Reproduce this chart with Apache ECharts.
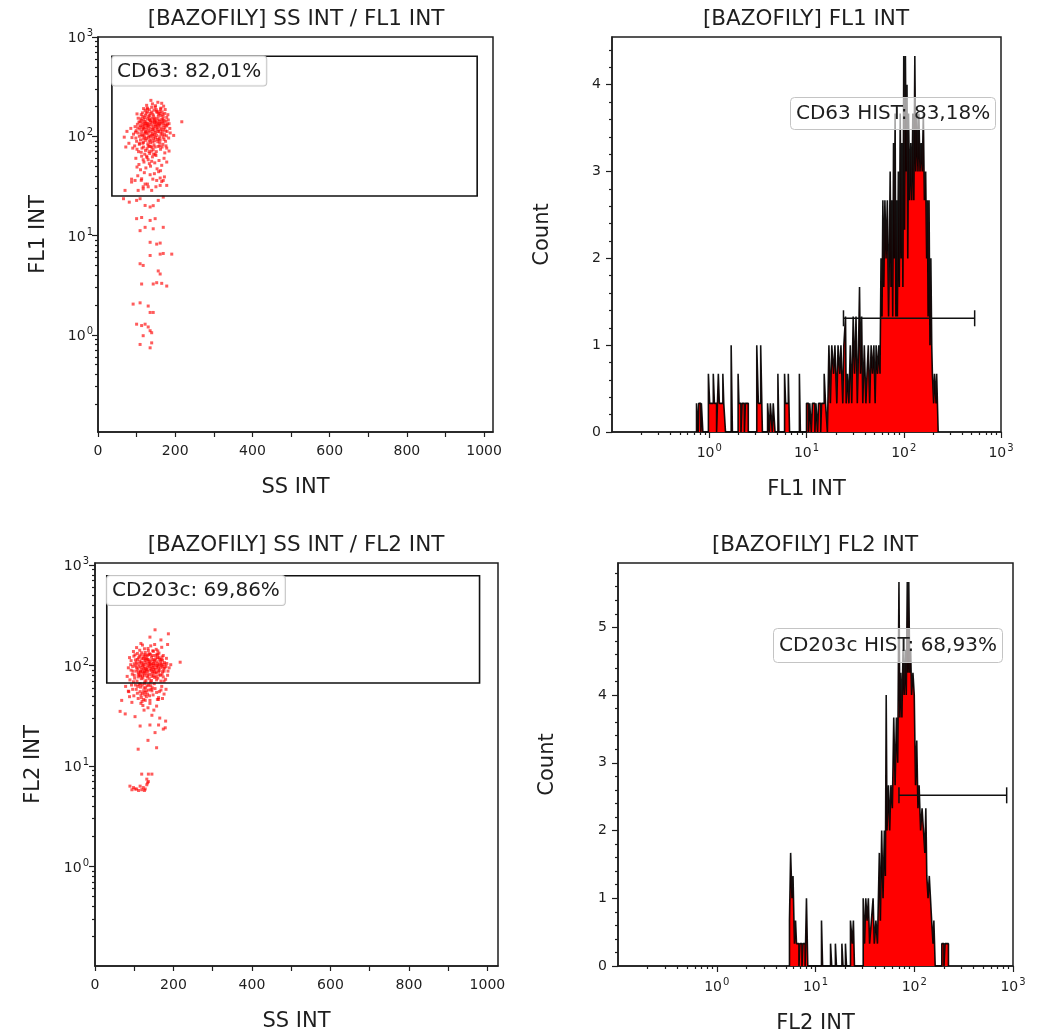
<!DOCTYPE html>
<html><head><meta charset="utf-8">
<script src="https://cdn.jsdelivr.net/npm/echarts@6/dist/echarts.min.js"></script>
<style>html,body{margin:0;padding:0;background:#fff}#c{width:1053px;height:1035px}</style>
</head><body><div id="c"></div>
<script>
// ---------- DATA ----------
const panelTitles = ['[BAZOFILY] SS INT / FL1 INT', '[BAZOFILY] FL1 INT', '[BAZOFILY] SS INT / FL2 INT', '[BAZOFILY] FL2 INT'];
const axisNames = { ss: 'SS INT', fl1: 'FL1 INT', fl2: 'FL2 INT', count: 'Count' };
const gateLabels = ['CD63: 82,01%', 'CD203c: 69,86%'];
const histLabels = ['CD63 HIST: 83,18%', 'CD203c HIST: 68,93%'];

const ssTickValues = [0,100,200,300,400,500,600,700,800,900,1000];
const ssLabelValues = [0,200,400,600,800,1000];
const logLabelValues = [1,10,100,1000];
const logLabelExps = {0:'0', 1:'1', 2:'2', 3:'3'};
const logMinorValues = [0.2,0.3,0.4,0.5,0.6,0.7,0.8,0.9,2,3,4,5,6,7,8,9,20,30,40,50,60,70,80,90,200,300,400,500,600,700,800,900];
const count1Labels = [0,1,2,3,4];
const count1Minor = [0.2,0.4,0.6,0.8,1.2,1.4,1.6,1.8,2.2,2.4,2.6,2.8,3.2,3.4,3.6,3.8,4.2,4.4];
const count2Labels = [0,1,2,3,4,5];
const count2Minor = [0.2,0.4,0.6,0.8,1.2,1.4,1.6,1.8,2.2,2.4,2.6,2.8,3.2,3.4,3.6,3.8,4.2,4.4,4.6,4.8,5.2,5.4,5.6,5.8];

// gates: [ssMin, ssMax, flMin, flMax]
const scatterGate1 = [36, 982, 25, 640];
const scatterGate2 = [30, 980, 67, 783];
// histogram gates: [from, to, level]
const histGate1 = [24, 536, 1.31];
const histGate2 = [70, 863, 2.52];

// SS INT / FL1 INT events
const fl1Scatter = [
[118,190],[126,205],[133,185],[141,212],[148,196],[155,220],[162,188],[170,201],[137,230],[152,178],[165,215],[128,176],[145,183],[174,186],[122,181],
[104,152],[112,165],[119,148],[125,171],[131,158],[136,143],[142,167],[147,152],[153,174],[158,146],[163,161],[168,149],[173,170],[178,155],[109,140],[116,158],[123,163],[139,175],[150,141],[160,169],[171,144],[128,150],[134,162],[145,148],[156,159],[166,176],[176,142],[181,165],[101,168],[113,145],
[96,125],[102,132],[108,118],[114,136],[120,122],[126,129],[132,115],[137,138],[143,124],[148,131],[154,117],[159,134],[164,121],[170,128],[175,113],[180,133],[186,120],[99,114],[106,139],[117,127],[123,112],[129,135],[135,121],[140,130],[146,113],[152,137],[157,125],[162,116],[167,139],[173,122],[178,127],[111,124],[131,127],[144,119],[119,131],[161,130],[138,112],[149,126],[126,118],[184,134],
[92,105],[98,96],[104,108],[110,92],[115,101],[121,98],[127,106],[133,90],[138,103],[144,95],[149,109],[155,88],[160,99],[166,104],[171,93],[177,101],[183,96],[107,100],[118,94],[124,110],[130,97],[141,106],[147,90],[152,102],[158,94],[163,107],[169,98],[175,89],[112,104],[136,99],[100,89],[88,97],[196,102],
[95,80],[101,74],[107,83],[112,69],[118,78],[123,72],[129,84],[134,67],[140,77],[145,82],[151,70],[156,79],[162,74],[168,83],[173,68],[178,76],[184,71],[116,85],[127,75],[138,71],[148,66],[160,80],[121,66],[133,79],[105,70],[90,76],[176,80],[143,73],
[98,60],[106,52],[113,63],[119,55],[124,48],[130,58],[136,50],[141,62],[147,54],[153,47],[158,57],[165,51],[171,60],[110,46],[127,61],[139,56],[150,64],[162,45],[117,58],[133,53],[178,55],[101,49],
[103,40],[112,36],[120,43],[128,33],[135,41],[142,37],[150,31],[157,44],[165,35],[172,39],[117,31],[146,42],[161,38],
[217,140],[68,98],[75,112],[80,85],[72,78],[85,120],
[115,172],[121,155],[127,188],[134,149],[139,196],[144,160],[151,185],[157,168],[163,192],[169,157],[120,140],[127,133],[133,146],[140,152],[146,137],[153,150],[159,141],[165,147],[171,135],[110,128],[116,117],[122,134],[128,124],[134,131],[141,117],[147,143],[153,129],[158,112],[164,136],[170,118],[176,130],[113,111],[119,103],[125,95],[131,110],[137,92],[143,101],[149,97],[155,111],[161,92],[167,112],[172,104],[118,87],[124,91],[130,80],[136,86],[142,88],[148,78],[154,93],[160,86],[166,78],[108,85],[114,76],[126,63],[132,70],[144,66],[137,79],[146,104],[152,121],[132,101],[124,140],[118,120],[142,140],[156,133],[128,192],[149,203],[160,178],[168,166],[111,150],[135,170],[121,108],[103,122],[97,110],[182,146],[179,112],[187,108],
[66,23.5],[81,21.7],[100,22.6],[109,23.5],[122,20.1],[135,19.4],[143,20],[156,22.6],[169,24.4],
[100,14.8],[113,15.2],[122,12.1],[135,14.2],[148,14.8],[169,12.1],[109,11.2],[143,11.7],
[135,8.55],[152,8.2],[161,8.4],[135,6.3],[161,6.5],[169,6.6],[191,6.5],[109,5.2],[117,5.0],[156,4.4],[161,4.1],
[113,3.25],[143,3.25],[152,3.35],[165,3.3],[178,3.1],[91,2.04],[109,2.1],[130,1.95],[135,1.68],[143,1.68],
[100,1.28],[113,1.24],[122,1.28],[135,1.1],[130,1.2],[117,0.98],[139,1.05],[109,0.8],[135,0.74],[139,0.83],
[87,34.6],[96,35.9],[113,37.3],[122,33],[130,31],[152,35.9],[161,32],[169,35.9],[178,32],[70,28.5],[104,28.5],[117,29.5],[139,28.5],[87,37]
];

// SS INT / FL2 INT events
const fl2Scatter = [
[98,138],[106,151],[114,142],[121,160],[128,135],[135,148],[142,157],[149,139],[156,145],[163,133],[170,152],[117,166],[139,131],[152,162],[126,147],[108,132],[160,140],
[153,227],[187,207],[140,192],[185,162],[217,108],[168,180],
[92,112],[99,124],[105,108],[111,119],[117,127],[122,106],[128,116],[133,125],[138,110],[144,121],[149,105],[155,117],[160,128],[166,111],[171,122],[177,107],[182,118],[102,128],[114,110],[125,122],[136,114],[147,126],[158,109],[169,115],[119,117],[130,108],[141,129],[152,113],[163,120],[174,126],[88,120],[108,115],
[85,95],[91,102],[97,88],[103,99],[109,92],[114,104],[120,86],[125,97],[131,90],[136,101],[142,94],[147,87],[153,103],[158,96],[164,89],[169,100],[175,93],[181,98],[186,88],[100,104],[111,86],[117,96],[123,102],[128,93],[134,88],[139,98],[145,104],[150,91],[156,86],[161,99],[167,95],[172,87],[178,103],[106,95],[133,96],[144,90],[119,91],[126,88],[189,95],[193,102],
[82,78],[89,72],[95,82],[101,75],[107,70],[113,80],[118,74],[124,84],[130,71],[135,79],[141,69],[146,83],[152,76],[157,72],[163,81],[168,70],[174,77],[180,73],[185,80],[98,69],[110,77],[121,79],[127,69],[138,74],[149,79],[160,75],[171,82],[115,85],[132,83],[144,71],[155,84],[176,70],
[112,98],[118,108],[124,93],[129,103],[134,115],[140,105],[146,96],[151,110],[157,100],[162,93],[168,106],[173,98],[116,88],[121,100],[127,112],[132,92],[137,106],[143,112],[149,100],[154,92],[160,104],[165,116],[171,103],[113,124],[119,134],[125,128],[131,118],[136,128],[142,102],[148,115],[154,126],[159,120],[164,102],[110,82],[116,79],[122,75],[127,86],[133,77],[139,82],[145,78],[151,86],[156,78],[162,87],[167,80],[105,88],[126,80],[140,90],[150,95],[158,130],[147,140],[136,140],[129,127],[123,118],[107,104],[103,114],[172,113],[178,95],[183,105],[96,98],[92,90],[100,80],[176,88],
[78,62],[86,55],[93,64],[99,50],[105,58],[110,47],[116,61],[121,53],[126,66],[131,49],[137,57],[142,63],[148,51],[153,59],[159,46],[164,55],[170,62],[176,52],[181,58],[96,58],[112,65],[118,48],[124,56],[129,60],[134,52],[140,45],[146,60],[151,66],[157,54],[162,48],[168,57],[103,64],[88,49],[115,55],[127,51],[133,63],[145,56],[172,47],[108,53],[120,44],[128,45],[122,40],[117,42],[135,38],
[125,60],[131,56],[120,64],[115,66],[137,64],[143,58],[109,62],[117,51],[124,46],[128,54],[139,50],
[64,35],[77,33],[115,25],[140,25.6],[162,25.6],[179,24],[153,21.5],[174,23.3],[102,31],[145,32],[68,45],[94,43],[140,42],[157,39.5],[85,55.6],[162,46],[110,14.7],[157,15.2],[136,8.3],[145,8.3],[119,8.3],[135,18],[165,30],[125,36],[150,36],[180,28],
[89,6.3],[98,6.1],[106,5.9],[115,6.3],[119,5.8],[128,5.9],[132,6.5],[136,7.0],[132,7.4],[94,5.8],[111,5.7],[123,6.1],[102,5.9],[134,6.8],[126,5.7]
];

// FL1 INT histogram: [channel value where level starts, count]
const fl1Hist = [
[0.74,0.33],[0.77,0],[0.78,0.33],[0.82,0],[0.83,0.33],[0.86,0],
[0.98,0.67],[1.01,0.33],[1.1,0.67],[1.13,0.33],[1.19,0],
[1.24,0.67],[1.27,0.33],[1.38,0.67],[1.41,0.33],[1.47,0],
[1.68,1],[1.73,0],
[1.98,0.67],[2.02,0.33],[2.12,0],[2.17,0.33],[2.3,0],[2.35,0.33],[2.52,0],
[3.08,1],[3.2,0.33],[3.38,1],[3.52,0],
[3.98,0.33],[4.15,0],[4.25,0.33],[4.45,0],[4.55,0.33],[4.75,0],
[5.08,0.67],[5.2,0],
[5.95,0.67],[6.1,0.33],[6.5,0.67],[6.7,0],
[8.45,0.67],[8.65,0],
[10,0.33],[10.5,0],[10.8,0.33],[11.2,0],[11.5,0.33],[12.2,0],[12.5,0.33],[13,0],[13.3,0.33],[14,0],[14.3,0.33],[15.2,0.67],[15.7,0.33],[16.4,0],
[17,1],[17.6,0.33],[18.2,1],[19,0.67],[19.6,1],[20.5,0.33],[21.1,1],[22,0.67],[22.6,1],[23.6,0.33],[24.2,1],[25.2,1.33],[25.6,0.33],[26.4,0.67],[27.3,0.33],[28.2,1],[29.2,0.33],[30.2,1.33],[31.2,0.67],[32.3,1.33],[33.3,0.33],[34.3,1],[35.1,1.67],[35.9,0.67],[36.9,1.33],[37.9,0.33],[39.3,1],[40.8,0.33],[41.9,0.67],[43.2,1],[44.6,0.33],[46.2,1],[47.7,0.67],[49.3,1],[50.8,0.33],[52,1],[53.8,0.67],[55.4,1],[57,0.67],[58.4,2],[59.8,1.33],[61,2.67],[62.4,1.67],[64,2.67],[65.8,2],[67.8,2.67],[69.8,1.33],
[71,2],[72.5,3],[74,1.67],[75.5,2.67],[77,1.33],[78.5,3.33],[80,2],[81.5,3.67],[83,1.33],[84.5,2.67],[86,1.33],[88,3],[90,1.67],[92,3.67],[94,2],[96,3.33],[98,1.67],[100,4.33],[102,2.33],[104,4.33],[106,3],[108,4],[110,2],[112,3.67],[115,2.67],[118,3.33],[121,2.67],[124,3.67],[127,2.67],[130,4.33],[133,3],[136,3.67],[140,3],[143,3.67],[147,3],[151,3.33],[155,3],[159,3.67],[163,2.67],[168,3],[172,2],[175,2.67],[178,1.33],[182,2.67],[186,1],[190,2],[194,1],[197,0.67],[203,0.33],[207,0.67],[215,0.33],[218,0.67],[226,0]
];

// FL2 INT histogram
const fl2Hist = [
[5.45,0.67],[5.6,1.67],[5.78,1],[5.92,1.33],[6.12,0.33],[6.28,0.67],[6.42,0.33],[6.8,0],[6.95,0.33],[7.3,0],[7.45,0.33],[7.85,0],
[8.1,1],[8.35,0],
[11.5,0.67],[11.8,0],
[14.2,0.33],[14.6,0],[15.9,0.33],[16.3,0],[18.5,0.33],[19,0],[20.1,0.33],[20.6,0],[22.6,0.67],[23.6,0.33],[24.2,0.67],[24.8,0],
[30.4,1],[31.4,0.33],[32.3,1],[33.3,0.67],[34.3,1],[35.3,0.33],[36.8,0.67],[38.3,1],[39.4,0.33],[40.9,0.67],[42.4,0.33],[44.3,1.67],[45.4,0.67],[46.8,2],[48.3,1],[49.8,2],[51,1.33],[52,4],[53,2],[54.8,2.67],[56.4,2],[58,2.67],[60,2.33],[62,3.67],[64,2.67],[66,3.67],[68,3],[70,5.67],[71.5,3.67],[73,4.33],[75,3.67],[77,4.67],[79,4],[81,4.67],[83,4],[85,5.67],[86.5,4.33],[88,5.67],[90,4.33],[92,4.67],[94,4],[97,4.33],[100,4],[103,2.67],[106,3.33],[109,2.33],[112,2.67],[116,2],[120,2.33],[124,2],[128,1.67],[131,2.33],[134,1.33],[138,1],[142,1.33],[146,1],[150,0.67],[155,0.33],[158,0.67],[163,0],
[190,0.33],[200,0],[205,0.33],[222,0]
];

// ---------- CHART ----------
const FONT = 'DejaVu Sans';
const TXT = '#1e1e1e';
const chart = echarts.init(document.getElementById('c'), null, {renderer: 'canvas'});

const lineSt = {show: true, lineStyle: {color: TXT, width: 1.5}};
const tickSt = {color: TXT, width: 1.2};
const nameSt = {fontSize: 21, color: TXT, fontFamily: FONT};
const lblSt = {fontSize: 14, color: TXT, fontFamily: FONT};
const logFmt = v => '{b|10}{s|' + logLabelExps[Math.round(Math.log10(v))] + '}';
const logRich = {b: {fontSize: 14, color: TXT, fontFamily: FONT, lineHeight: 17, verticalAlign: 'bottom'},
                 s: {fontSize: 10, color: TXT, fontFamily: FONT, lineHeight: 17, verticalAlign: 'top', padding: [0, 0, 0, 1]}};
const plainFmt = v => String(v);

function ssAxis(grid, max, name, gap) {
  return {gridIndex: grid, type: 'value', position: 'bottom', min: 0, max: max, axisLine: lineSt, splitLine: {show: false},
    axisTick: {show: true, length: 5, customValues: ssTickValues, lineStyle: tickSt},
    axisLabel: Object.assign({customValues: ssLabelValues, margin: 12, formatter: plainFmt}, lblSt),
    name: name, nameLocation: 'middle', nameGap: gap, nameTextStyle: nameSt};
}
function logAxis(grid, pos, min, max, name, gap, margin) {
  return {gridIndex: grid, position: pos, type: 'log', logBase: 10, min: min, max: max, axisLine: lineSt, splitLine: {show: false},
    axisTick: {show: true, length: 6, customValues: logLabelValues, lineStyle: tickSt},
    axisLabel: {customValues: logLabelValues, margin: margin, formatter: logFmt, rich: logRich},
    name: name, nameLocation: 'middle', nameGap: gap, nameTextStyle: nameSt};
}
function logMinor(grid, pos, min, max) {
  return {gridIndex: grid, position: pos, type: 'log', logBase: 10, min: min, max: max, axisLine: {show: false}, splitLine: {show: false},
    axisLabel: {show: false}, axisTick: {show: true, length: 3, customValues: logMinorValues, lineStyle: tickSt}};
}
function countAxis(grid, max, labels, name, gap) {
  return {gridIndex: grid, position: 'left', type: 'value', min: 0, max: max, axisLine: lineSt, splitLine: {show: false},
    axisTick: {show: true, length: 6, customValues: labels, lineStyle: tickSt},
    axisLabel: Object.assign({customValues: labels, margin: 11, formatter: plainFmt}, lblSt),
    name: name, nameLocation: 'middle', nameGap: gap, nameTextStyle: nameSt};
}
function countMinor(grid, max, minor) {
  return {gridIndex: grid, position: 'left', type: 'value', min: 0, max: max, axisLine: {show: false}, splitLine: {show: false},
    axisLabel: {show: false}, axisTick: {show: true, length: 3, customValues: minor, lineStyle: tickSt}};
}

function scatterSeries(xi, yi, data, gate, label) {
  return {type: 'scatter', xAxisIndex: xi, yAxisIndex: yi, data: data, symbol: 'rect', symbolSize: 3,
    itemStyle: {color: 'rgba(255,0,0,0.8)'}, silent: true, z: 2,
    markArea: {silent: true, z: 3,
      itemStyle: {color: 'rgba(0,0,0,0)', borderColor: '#111', borderWidth: 1.6},
      label: {show: true, position: 'insideTopLeft', distance: 1, formatter: label,
        fontSize: 20, color: TXT, fontFamily: FONT, backgroundColor: 'rgba(255,255,255,0.85)',
        borderColor: '#c4c4c4', borderWidth: 1, borderRadius: 3, padding: [5, 5, 4, 5]},
      data: [[{xAxis: gate[0], yAxis: gate[3]}, {xAxis: gate[1], yAxis: gate[2]}]]}};
}
function histSeries(xi, yi, levels) {
  const pts = [[levels[0][0], 0]].concat(levels);
  return {type: 'line', xAxisIndex: xi, yAxisIndex: yi, data: pts, step: 'end', symbol: 'none', showSymbol: false,
    lineStyle: {color: 'rgba(0,0,0,0.92)', width: 1.6}, areaStyle: {color: '#ff0000', opacity: 1}, z: 2, silent: true};
}
function gateSeries(xi, yi, g) {
  return {type: 'custom', xAxisIndex: xi, yAxisIndex: yi, data: [g], encode: {x: [0, 1], y: 2}, z: 5, silent: true,
    renderItem: (params, api) => {
      const a = api.coord([api.value(0), api.value(2)]);
      const b = api.coord([api.value(1), api.value(2)]);
      const cap = 8, st = {stroke: '#111', lineWidth: 1.5};
      return {type: 'group', children: [
        {type: 'line', shape: {x1: a[0], y1: a[1], x2: b[0], y2: b[1]}, style: st},
        {type: 'line', shape: {x1: a[0], y1: a[1] - cap, x2: a[0], y2: a[1] + cap}, style: st},
        {type: 'line', shape: {x1: b[0], y1: b[1] - cap, x2: b[0], y2: b[1] + cap}, style: st}]};
    }};
}
const titleSt = {fontSize: 21.5, fontWeight: 'normal', color: TXT, fontFamily: FONT};
const histLblSt = {fontSize: 20, fontWeight: 'normal', color: TXT, fontFamily: FONT, lineHeight: 25};
const gridBase = {show: true, borderColor: TXT, borderWidth: 1.5, backgroundColor: 'transparent', containLabel: false, outerBoundsMode: 'none'};

chart.setOption({
  animation: false,
  backgroundColor: '#fff',
  title: [
    {text: panelTitles[0], left: 296, top: 8, textAlign: 'center', padding: 0, textStyle: titleSt},
    {text: panelTitles[1], left: 806, top: 8, textAlign: 'center', padding: 0, textStyle: titleSt},
    {text: panelTitles[2], left: 296, top: 534, textAlign: 'center', padding: 0, textStyle: titleSt},
    {text: panelTitles[3], left: 815, top: 534, textAlign: 'center', padding: 0, textStyle: titleSt},
    {text: histLabels[0], left: 790, top: 97, padding: [4, 6, 4, 6], backgroundColor: 'rgba(255,255,255,0.62)',
      borderColor: '#c4c4c4', borderWidth: 1, borderRadius: 4, textStyle: histLblSt},
    {text: histLabels[1], left: 773, top: 628, padding: [5, 6, 5, 6], backgroundColor: 'rgba(255,255,255,0.62)',
      borderColor: '#c4c4c4', borderWidth: 1, borderRadius: 4, textStyle: histLblSt}
  ],
  grid: [
    Object.assign({left: 98, top: 37, width: 395, height: 395}, gridBase),
    Object.assign({left: 612, top: 37, width: 389, height: 395}, gridBase),
    Object.assign({left: 95, top: 563, width: 403, height: 403}, gridBase),
    Object.assign({left: 618, top: 563, width: 395, height: 403}, gridBase)
  ],
  xAxis: [
    ssAxis(0, 1023, axisNames.ss, 45),
    logAxis(1, 'bottom', 0.1, 1000, axisNames.fl1, 47, 11),
    ssAxis(2, 1027, axisNames.ss, 45),
    logAxis(3, 'bottom', 0.1, 1000, axisNames.fl2, 47, 11),
    logMinor(1, 'bottom', 0.1, 1000),
    logMinor(3, 'bottom', 0.1, 1000)
  ],
  yAxis: [
    logAxis(0, 'left', 0.105, 1000, axisNames.fl1, 49, 5),
    countAxis(1, 4.55, count1Labels, axisNames.count, 59),
    logAxis(2, 'left', 0.102, 1050, axisNames.fl2, 51, 6),
    countAxis(3, 5.95, count2Labels, axisNames.count, 60),
    logMinor(0, 'left', 0.105, 1000),
    countMinor(1, 4.55, count1Minor),
    logMinor(2, 'left', 0.102, 1050),
    countMinor(3, 5.95, count2Minor)
  ],
  series: [
    scatterSeries(0, 0, fl1Scatter, scatterGate1, gateLabels[0]),
    histSeries(1, 1, fl1Hist),
    gateSeries(1, 1, histGate1),
    scatterSeries(2, 2, fl2Scatter, scatterGate2, gateLabels[1]),
    histSeries(3, 3, fl2Hist),
    gateSeries(3, 3, histGate2)
  ]
});
</script></body></html>
